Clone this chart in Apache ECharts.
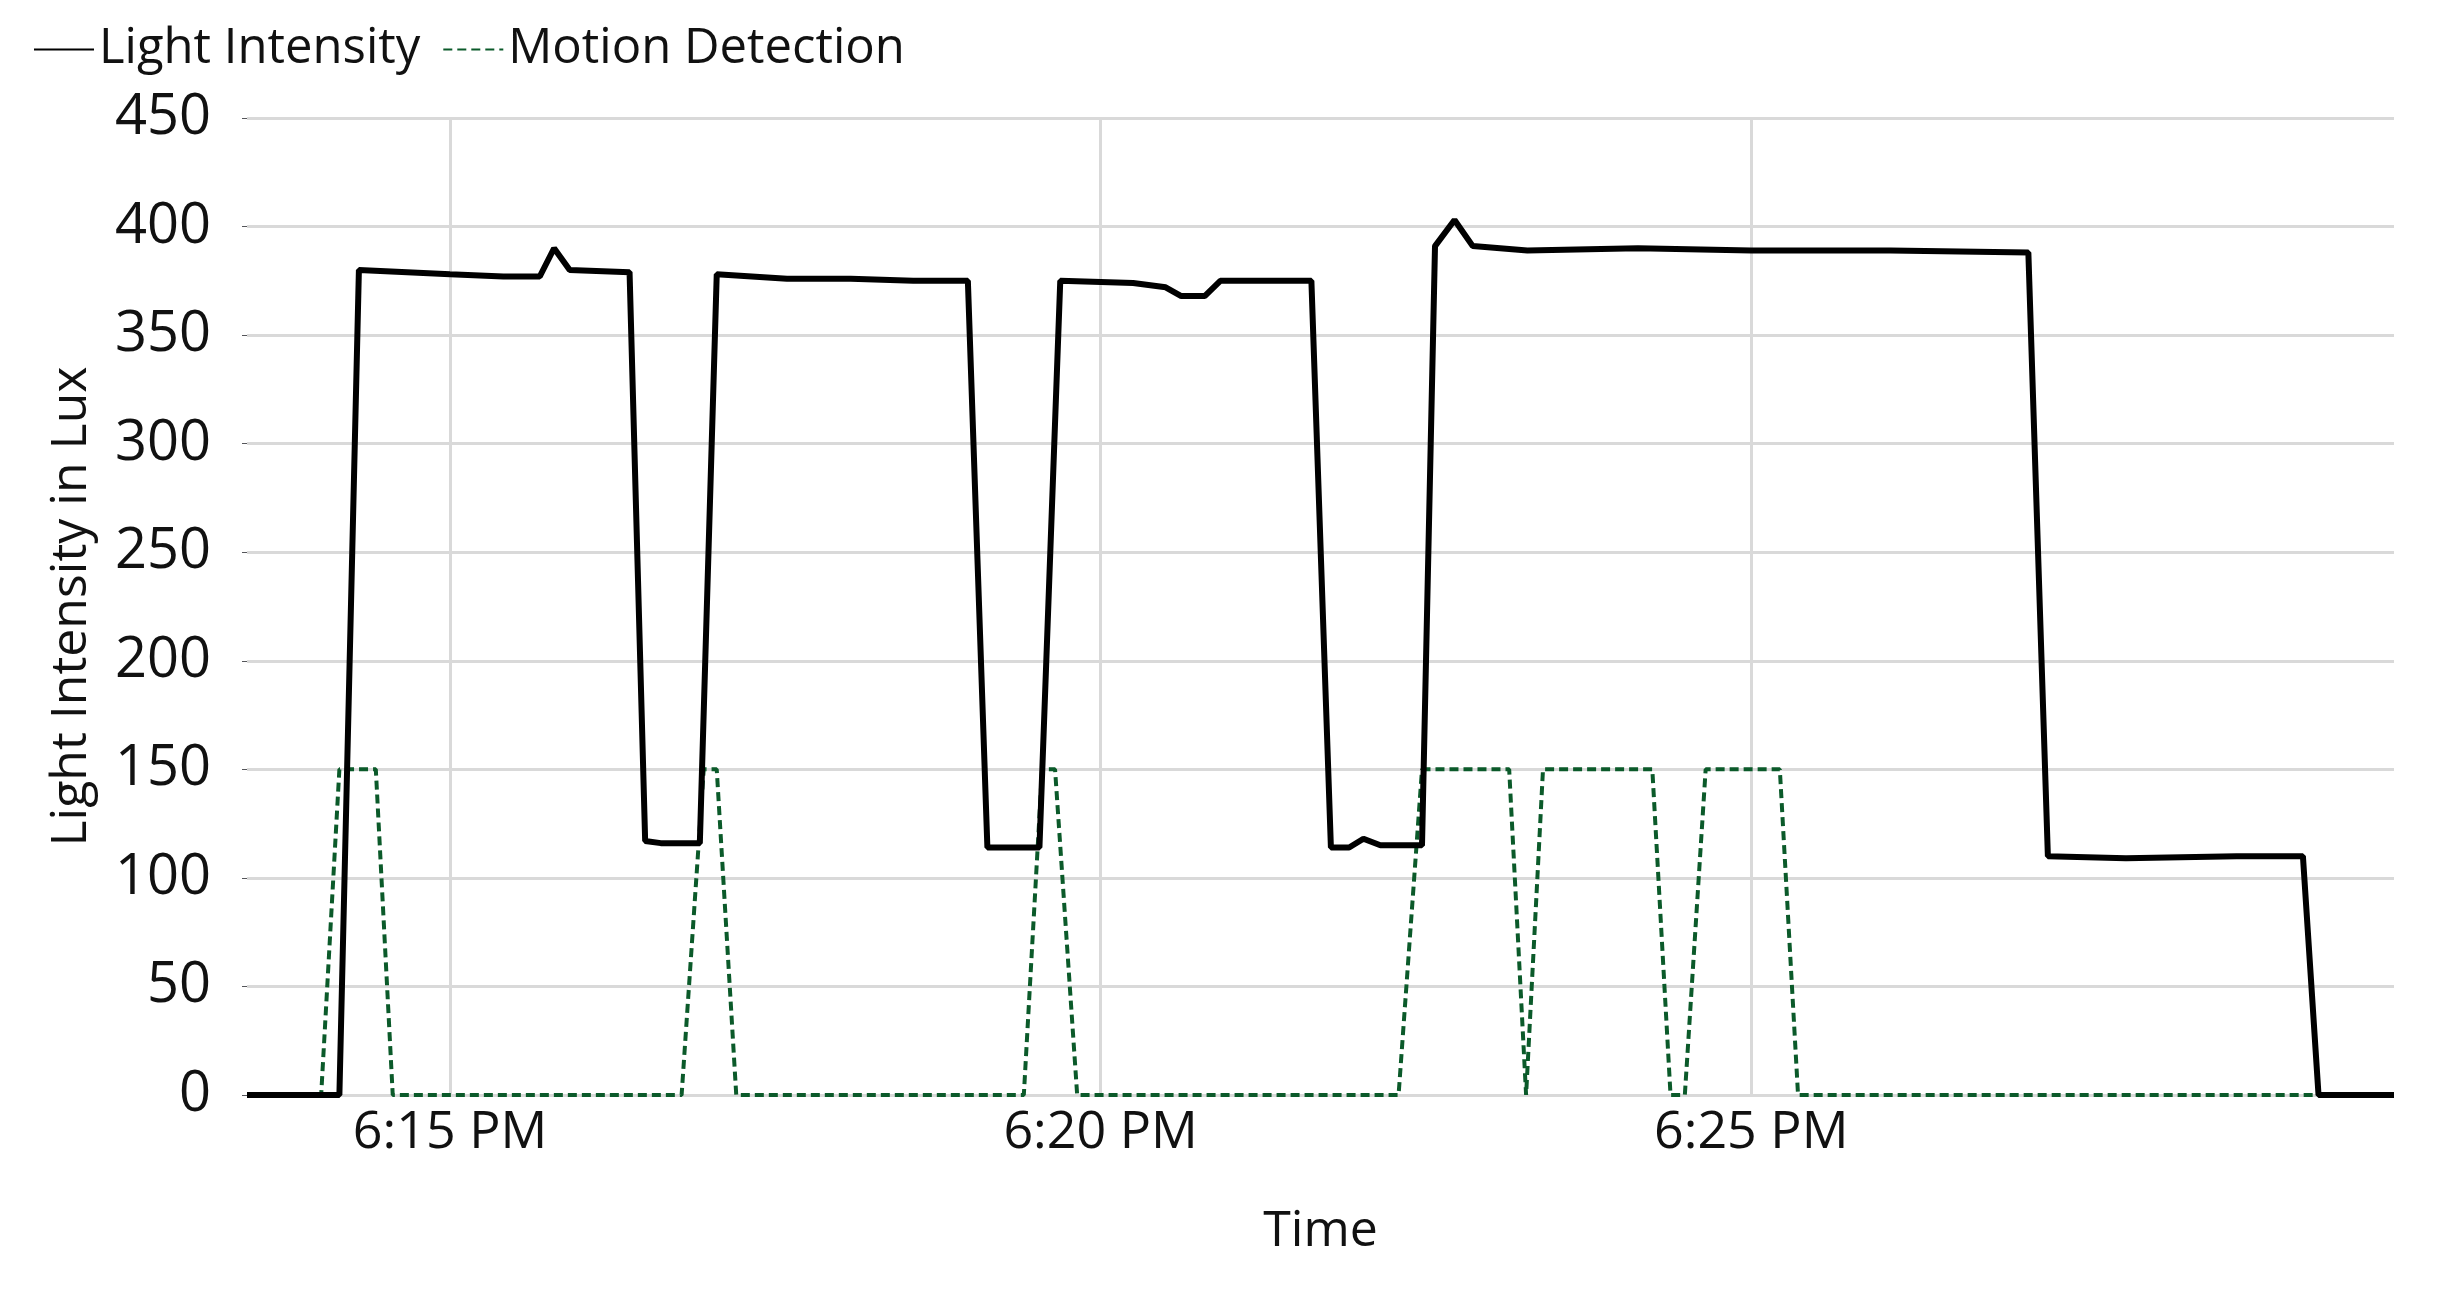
<!DOCTYPE html>
<html>
<head>
<meta charset="utf-8">
<script src="https://cdn.jsdelivr.net/npm/echarts@6/dist/echarts.min.js"></script>
<style>html,body{margin:0;padding:0;background:#fff}#chart{width:2457px;height:1300px}</style>
</head>
<body>
<div id="chart"></div>
<script>
// time in minutes after 6:00 PM
const lightTime = [13.44, 14.15, 14.30, 15.0, 15.41, 15.69, 15.80, 15.92, 16.38, 16.50, 16.62, 16.92, 17.05, 17.59, 18.08, 18.56, 18.98, 19.13, 19.53, 19.69, 20.25, 20.50, 20.62, 20.80, 20.92, 21.22, 21.62, 21.77, 21.91, 22.02, 22.15, 22.47, 22.57, 22.72, 22.86, 23.28, 24.13, 25.0, 26.07, 27.13, 27.28, 27.88, 28.73, 29.24, 29.36, 29.94];
const lightLux = [0, 0, 380, 378, 377, 377, 390, 380, 379, 117, 116, 116, 378, 376, 376, 375, 375, 114, 114, 375, 374, 372, 368, 368, 375, 375, 375, 114, 114, 118, 115, 115, 391, 403, 391, 389, 390, 389, 389, 388, 110, 109, 110, 110, 0, 0];
const motionTime = [13.44, 14.01, 14.15, 14.43, 14.56, 16.78, 16.95, 17.05, 17.20, 19.41, 19.55, 19.65, 19.82, 22.29, 22.47, 23.14, 23.27, 23.40, 24.24, 24.38, 24.49, 24.65, 25.22, 25.36, 29.94];
const motionVal = [0, 0, 150, 150, 0, 0, 150, 150, 0, 0, 150, 150, 0, 0, 150, 150, 0, 150, 150, 0, 0, 150, 150, 0, 0];
const timeTicks = [15, 20, 25];
const yMin = 0, yMax = 450, yStep = 50;

const zip = (a, b) => a.map((t, i) => [t, b[i]]);
const font = '"Open Sans", "Noto Sans", sans-serif';
const chart = echarts.init(document.getElementById('chart'));
chart.setOption({
  animation: false,
  textStyle: { fontFamily: font },
  legend: {
    left: 28, top: 20, itemWidth: 60, itemHeight: 20, itemGap: 22,
    itemStyle: { opacity: 0 },
    textStyle: { fontSize: 49, color: '#111', fontFamily: font },
    data: ['Light Intensity', 'Motion Detection']
  },
  grid: { left: 247, right: 63, top: 118, bottom: 205 },
  xAxis: {
    type: 'value', min: lightTime[0], max: lightTime[lightTime.length - 1],
    name: 'Time', nameLocation: 'middle', nameGap: 112,
    nameTextStyle: { fontSize: 50, color: '#111' },
    axisLine: { show: false },
    axisTick: { show: false, customValues: timeTicks },
    axisLabel: {
      customValues: timeTicks, fontSize: 52, color: '#111', margin: 12,
      formatter: v => '6:' + String(Math.round(v)).padStart(2, '0') + ' PM'
    },
    splitLine: { show: true, lineStyle: { color: '#d9d9d9', width: 3 } }
  },
  yAxis: {
    type: 'value', min: yMin, max: yMax, interval: yStep,
    name: 'Light Intensity in Lux', nameLocation: 'middle', nameGap: 150,
    nameTextStyle: { fontSize: 50, color: '#111' },
    axisLine: { show: false },
    axisLabel: { fontSize: 56, color: '#111', margin: 36 },
    splitLine: { lineStyle: { color: '#d9d9d9', width: 3 } }
  },
  series: [
    {
      name: 'Light Intensity', type: 'line', showSymbol: false, symbol: 'none',
      data: zip(lightTime, lightLux), z: 3,
      lineStyle: { color: '#000', width: 6 }, itemStyle: { color: '#000' }
    },
    {
      name: 'Motion Detection', type: 'line', showSymbol: false, symbol: 'none',
      data: zip(motionTime, motionVal), z: 2,
      lineStyle: { color: '#0b5a2a', width: 4, type: [9, 5] }, itemStyle: { color: '#0b5a2a' }
    }
  ]
});
</script>
</body>
</html>
